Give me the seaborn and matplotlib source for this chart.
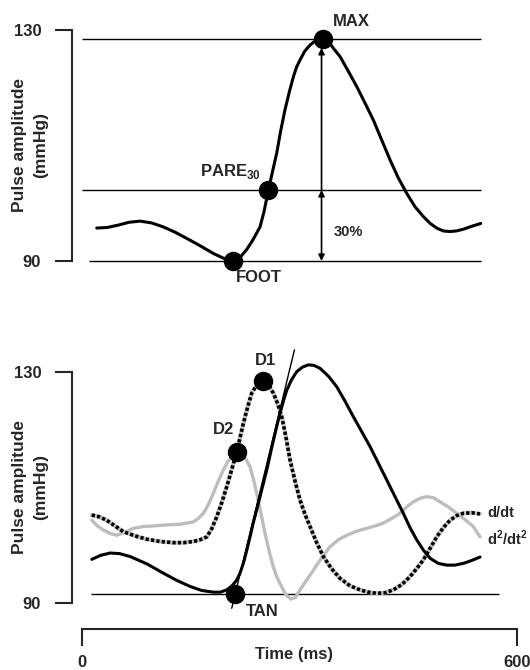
import numpy as np
import matplotlib
matplotlib.use("Agg")
import matplotlib.pyplot as plt
import matplotlib.transforms as mtransforms
import seaborn as sns

sns.set_style("ticks")
plt.rcParams["font.family"] = ["Liberation Sans", "DejaVu Sans"]
plt.rcParams["font.weight"] = "bold"
plt.rcParams["mathtext.fontset"] = "custom"
plt.rcParams["mathtext.rm"] = "Liberation Sans:bold"
plt.rcParams["mathtext.bf"] = "Liberation Sans:bold"

# =========================
# DATA (ms, mmHg)
# =========================

# top panel: pressure pulse
pulse_t = [20.7, 35, 50, 65, 80.3, 96, 112.4, 130, 149.2, 165,
           181.3, 195, 208.1, 218, 227.3, 236, 245.6, 251, 257.2, 263,
           268.6, 274, 280, 286, 291.5, 296, 300.7, 307, 314.5, 322.7,
           331.7, 337, 342, 348, 355.8, 367, 378.8, 390, 401.7, 413,
           424.7, 436, 447.7, 459, 470.5, 480, 489, 498, 507.3, 516,
           525.6, 537, 549.6]
pulse_p = [95.7, 95.8, 96.2, 96.7, 96.9, 96.6, 95.9, 94.9, 93.6, 92.5,
           91.3, 90.5, 90.0, 90.6, 92.0, 93.7, 95.9, 98.5, 102.3, 105.6,
           108.7, 112.5, 116.2, 119.3, 121.9, 123.6, 124.8, 126.3, 127.4, 128.2,
           128.4, 128.1, 127.6, 126.6, 125.4, 122.9, 120.2, 117.4, 114.4, 111.0,
           107.5, 104.4, 101.7, 99.4, 97.7, 96.5, 95.7, 95.2, 95.1, 95.2,
           95.5, 96.0, 96.5]

foot_level = 90.0
pare_level = 102.3
max_level = 128.4
top_points = {"FOOT": (208.1, 90.0), "PARE": (257.2, 102.3), "MAX": (331.7, 128.4)}

# bottom panel: pulse + derivatives
wave_t = [13.8, 26, 39, 52, 66.5, 90, 112.4, 130, 149.2, 165,
          181.3, 191, 199.7, 207, 213.5, 218, 222.6, 227, 231.8, 236,
          241, 248, 254.8, 261.7, 268.6, 273.1, 277.8, 282.4, 289, 296.1,
          304, 312.1, 320, 328.2, 340, 351.2, 362.6, 374.1, 385.6, 397.1,
          408.6, 420.1, 431.5, 443, 452.2, 461.4, 470.6, 479.8, 491, 502.8,
          514, 525.6, 537, 548.6]
wave_p = [97.5, 98.2, 98.6, 98.5, 98.0, 96.7, 95.1, 93.9, 92.8, 92.1,
          91.8, 91.8, 92.2, 92.9, 93.9, 95.1, 96.8, 98.9, 101.4, 103.7,
          106.1, 109.6, 113.0, 116.9, 120.6, 122.9, 125.0, 126.9, 128.7, 130.1,
          130.9, 131.3, 131.2, 130.7, 129.3, 127.5, 125.0, 122.3, 119.7, 117.1,
          114.2, 111.3, 108.4, 105.5, 103.0, 100.9, 99.1, 97.7, 96.8, 96.5,
          96.5, 96.8, 97.3, 97.9]

d1_t = [13.8, 24, 34.4, 46, 57.3, 73, 89.5, 108, 126.2, 140,
        153.7, 163, 172.2, 179, 186, 193, 199.7, 206.6, 213.6, 218,
        222.6, 228.4, 234.2, 241.7, 249.3, 256.6, 263.9, 269.7, 275.5, 281.2,
        286.9, 293.8, 300.7, 307.6, 314.5, 323.6, 332.8, 344, 355.8, 369.5,
        383.3, 394.8, 406.3, 417.8, 429.2, 440.7, 452.2, 461.4, 470.5, 479.8,
        489, 498, 507.3, 516.5, 525.6, 537, 548.6]
d1_p = [105.2, 104.9, 104.3, 103.3, 102.3, 101.6, 101.0, 100.6, 100.4, 100.4,
        100.6, 100.9, 101.4, 102.8, 104.9, 107.4, 110.1, 113.1, 116.2, 118.6,
        121.1, 123.9, 126.4, 127.9, 128.5, 127.9, 126.4, 124.6, 122.3, 118.8,
        114.8, 111.1, 107.8, 105.3, 103.2, 100.4, 98.0, 95.9, 94.2, 92.9,
        92.2, 91.8, 91.6, 91.7, 92.2, 93.1, 94.5, 95.9, 97.4, 99.4,
        101.4, 103.0, 104.3, 105.1, 105.5, 105.6, 105.4]

d2_t = [13.8, 21.8, 29.8, 39, 48.2, 59.7, 71.1, 85, 98.6, 117,
        135.4, 153.7, 160.6, 167.5, 174.4, 181.3, 188.2, 195, 200.8, 206.6,
        212.3, 218, 224.9, 231.8, 236.4, 241, 246.8, 252.5, 258.2, 263.9,
        268.5, 273.1, 280.5, 288, 294.4, 300.7, 309.8, 319, 330.5, 342,
        353.5, 365, 378.8, 392.6, 404, 415.4, 426.9, 438.4, 447.6, 456.7,
        466, 475.2, 484.4, 493.5, 505, 516.5, 528, 539.4, 548.6]
d2_p = [104.3, 103.3, 102.6, 102.0, 101.7, 102.2, 102.9, 103.2, 103.3, 103.5,
        103.6, 104.0, 104.6, 105.5, 107.0, 109.0, 111.1, 113.0, 114.4, 115.3,
        115.8, 115.9, 115.2, 113.6, 111.5, 109.0, 105.5, 102.0, 98.9, 96.2,
        94.5, 93.3, 91.5, 90.6, 90.9, 92.2, 93.9, 95.6, 97.8, 99.7,
        100.9, 101.7, 102.4, 102.9, 103.3, 103.8, 104.6, 105.5, 106.6, 107.5,
        108.1, 108.4, 108.2, 107.5, 106.6, 105.5, 104.4, 103.2, 101.4]

tan_level = 91.5
tan_t = [206.6, 293.0]
tan_p = [89.0, 133.9]
bottom_points = {"D1": (249.3, 128.5), "D2": (213.6, 116.2), "TAN": (211.4, 91.5)}

y_ticks = [90, 130]
x_ticks = [0, 600]

# =========================
# FIGURE
# =========================

fig = plt.figure(figsize=(5.3, 6.7), dpi=100)
ax1 = fig.add_axes([0.1353, 0.5821, 0.8408, 0.4030])
ax2 = fig.add_axes([0.1353, 0.0612, 0.8408, 0.4313])

for ax in (ax1, ax2):
    ax.set_xlim(-13.8, 600)
    ax.set_yticks(y_ticks)
    ax.set_yticklabels([str(v) for v in y_ticks], fontsize=12, fontweight="bold")
    ax.spines["left"].set_bounds(90, 130)
    ax.spines["left"].set_linewidth(1.5)
    ax.spines["top"].set_visible(False)
    ax.spines["right"].set_visible(False)
    ax.tick_params(axis="y", length=12, width=1.5, pad=10)
    ax.patch.set_alpha(0)

ax1.set_ylim(86.71, 133.46)
ax2.set_ylim(85.40, 135.61)

ax1.spines["bottom"].set_visible(False)
ax1.set_xticks([])

ax2.spines["bottom"].set_bounds(0, 600)
ax2.spines["bottom"].set_linewidth(1.5)
ax2.set_xticks(x_ticks)
ax2.set_xticklabels([str(v) for v in x_ticks], fontsize=12, fontweight="bold")
ax2.tick_params(axis="x", length=12, width=1.5, pad=7)

# ---- top panel ----
ax1.hlines([max_level, pare_level], 0, 550, color="black", lw=1.0)
ax1.hlines(foot_level, 9.6, 550, color="black", lw=1.0)
sns.lineplot(x=pulse_t, y=pulse_p, ax=ax1, color="black", lw=2.2,
             sort=False, estimator=None)

arr_x = top_points["MAX"][0] - 1.4
ax1.annotate("", xy=(arr_x, max_level - 1.5), xytext=(arr_x, pare_level),
             arrowprops=dict(arrowstyle="-|>", color="black", lw=1.2,
                             mutation_scale=9, shrinkA=0, shrinkB=0))
ax1.annotate("", xy=(arr_x, pare_level), xytext=(arr_x, foot_level),
             arrowprops=dict(arrowstyle="<|-|>", color="black", lw=1.2,
                             mutation_scale=9, shrinkA=0, shrinkB=0))

for name, (tx, py) in top_points.items():
    ax1.plot(tx, py, "o", color="black", ms=13, zorder=5)

ax1.text(372.0, 131.4, "MAX", fontsize=12, fontweight="bold", ha="center", va="center")
ax1.text(246.4, 105.5, r"PARE$_{\mathbf{30}}$", fontsize=12, fontweight="bold",
         ha="right", va="center")
ax1.text(244.1, 87.1, "FOOT", fontsize=12, fontweight="bold", ha="center", va="center")
ax1.text(346.6, 95.1, "30%", fontsize=10.5, fontweight="bold", ha="left", va="center")

# ---- bottom panel ----
ax2.hlines(tan_level, 12.4, 575, color="black", lw=1.0)
sns.lineplot(x=d2_t, y=d2_p, ax=ax2, color="#bdbdbd", lw=2.4,
             sort=False, estimator=None)
sns.lineplot(x=d1_t, y=d1_p, ax=ax2, color="#c4c4c4", lw=3.0,
             sort=False, estimator=None)
ax2.plot(d1_t, d1_p, color="black", lw=2.6, linestyle=(0, (0.9, 0.6)),
         dash_capstyle="butt")
sns.lineplot(x=wave_t, y=wave_p, ax=ax2, color="black", lw=2.2,
             sort=False, estimator=None)
ax2.plot(tan_t, tan_p, color="black", lw=1.0)

for name, (tx, py) in bottom_points.items():
    ax2.plot(tx, py, "o", color="black", ms=13, zorder=5)

ax2.text(252.5, 132.0, "D1", fontsize=12, fontweight="bold", ha="center", va="center")
ax2.text(195.2, 120.0, "D2", fontsize=12, fontweight="bold", ha="center", va="center")
ax2.text(248.8, 88.4, "TAN", fontsize=12, fontweight="bold", ha="center", va="center")
ax2.text(558.7, 105.6, "d/dt", fontsize=10.5, fontweight="bold", ha="left",
         va="center", clip_on=False)
ax2.text(558.7, 101.2, r"d$^{\mathbf{2}}$/dt$^{\mathbf{2}}$", fontsize=10.5,
         fontweight="bold", ha="left", va="center", clip_on=False)

# y labels
for ax in (ax1, ax2):
    ax.set_ylabel("")
    ax.set_xlabel("")
    tr = mtransforms.blended_transform_factory(ax.transAxes, ax.transData)
    ax.text(-0.0936, 110, "Pulse amplitude\n(mmHg)", transform=tr, rotation=90,
            fontsize=12.5, fontweight="bold", ha="center", va="center",
            linespacing=1.45)

fig.text(294.4 / 530, 1 - 655 / 670, "Time (ms)", fontsize=12,
         fontweight="bold", ha="center", va="center")

fig.savefig("out.png", dpi=100)
